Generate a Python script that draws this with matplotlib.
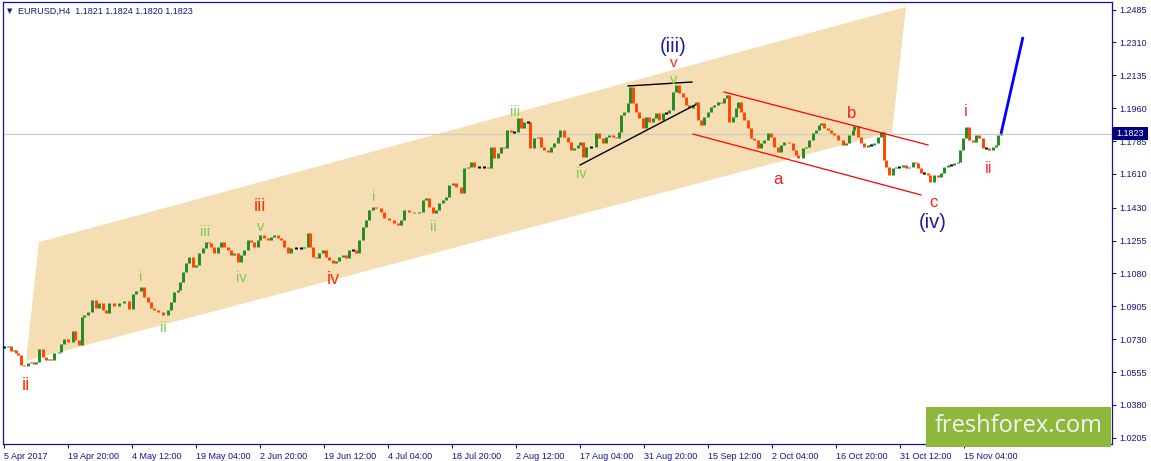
import matplotlib
matplotlib.use("Agg")
import matplotlib.pyplot as plt
from matplotlib.patches import Polygon, Rectangle
import numpy as np

W, H = 1151, 461
NAVY = '#14148c'
BULL = '#228b22'
BEAR = '#ff4500'

# H4 closes, bar number counted from 5 Apr 2017 00:00
bars_a = [0, 4, 7, 10, 12, 14, 17, 20, 24, 27, 30, 32, 35, 39, 42, 45, 47, 50, 55, 57,
          60, 64, 69, 71, 75, 78, 80, 84, 88, 92, 95, 99, 102, 105, 110, 115, 120, 125, 129, 132,
          137, 140, 144, 147, 150, 154, 159, 164, 167, 170, 174, 176, 179, 182, 185, 189, 192, 195,
          199, 202, 205]
close_a = [1.0688, 1.0694, 1.0667, 1.0672, 1.0656, 1.0646, 1.0592, 1.0587, 1.0603, 1.0608,
           1.0598, 1.0608, 1.0678, 1.0635, 1.0619, 1.0624, 1.0619, 1.0656, 1.0662, 1.0704,
           1.0731, 1.0715, 1.0773, 1.0726, 1.0699, 1.0848, 1.0859, 1.0875, 1.0939, 1.0896,
           1.0923, 1.0885, 1.0869, 1.0923, 1.0907, 1.0923, 1.0933, 1.0891, 1.0970, 1.0986,
           1.1008, 1.0955, 1.0928, 1.0896, 1.0885, 1.0875, 1.0859, 1.0885, 1.0928, 1.0981,
           1.0992, 1.1034, 1.1088, 1.1136, 1.1168, 1.1114, 1.1125, 1.1189, 1.1215, 1.1247, 1.1242]

bars_b = [207, 210, 214, 217, 220, 224, 227, 230, 234, 237, 240, 244, 247, 250, 254, 256, 260, 264,
          267, 270, 274, 277, 280, 284, 287, 292, 297, 300, 304, 306, 309, 312, 315, 319, 322, 325,
          329, 332, 335, 339, 342, 345, 349, 352, 355, 359, 362, 365, 369, 372, 377, 380, 385, 390,
          394, 397, 400, 405, 410, 415]
close_b = [1.1221, 1.1189, 1.1221, 1.1247, 1.1221, 1.1205, 1.1178, 1.1189, 1.1141, 1.1178,
           1.1205, 1.1258, 1.1247, 1.1221, 1.1258, 1.1285, 1.1269, 1.1258, 1.1274, 1.1285,
           1.1269, 1.1258, 1.1221, 1.1189, 1.1215, 1.1215, 1.1215, 1.1221, 1.1295, 1.1221,
           1.1168, 1.1162, 1.1189, 1.1205, 1.1168, 1.1152, 1.1136, 1.1146, 1.1168, 1.1178,
           1.1162, 1.1205, 1.1205, 1.1189, 1.1258, 1.1327, 1.1365, 1.1418, 1.1434, 1.1428,
           1.1407, 1.1375, 1.1365, 1.1349, 1.1338, 1.1365, 1.1418, 1.1407, 1.1402, 1.1407]

bars_c = [419, 422, 425, 429, 432, 435, 439, 442, 445, 449, 452, 457, 460, 464, 467, 470, 475, 480,
          484, 487, 490, 494, 497, 500, 503, 507, 510, 514, 517, 520, 524, 526, 530, 534, 537, 540,
          544, 547, 550, 554, 556, 560, 564, 567, 570, 574, 576, 579, 582, 587, 592, 595, 599, 602,
          605, 609, 612, 615, 617, 620, 624, 626]
close_c = [1.1471, 1.1482, 1.1434, 1.1402, 1.1418, 1.1455, 1.1471, 1.1487, 1.1551, 1.1562,
           1.1540, 1.1508, 1.1641, 1.1647, 1.1673, 1.1647, 1.1647, 1.1647, 1.1641, 1.1753,
           1.1695, 1.1721, 1.1753, 1.1748, 1.1844, 1.1833, 1.1833, 1.1908, 1.1854, 1.1886,
           1.1886, 1.1748, 1.1801, 1.1806, 1.1753, 1.1737, 1.1727, 1.1753, 1.1774, 1.1806,
           1.1844, 1.1806, 1.1780, 1.1737, 1.1748, 1.1764, 1.1780, 1.1700, 1.1753, 1.1753,
           1.1828, 1.1801, 1.1774, 1.1806, 1.1817, 1.1806, 1.1801, 1.1833, 1.1924, 1.1940,
           1.1988, 1.2073]

bars_d = [629, 632, 635, 639, 642, 645, 649, 652, 655, 659, 662, 665, 669, 672, 675, 679, 682, 685,
          689, 692, 694, 697, 700, 704, 707, 710, 714, 717, 720, 723, 725, 729, 732, 734, 737, 740,
          744, 747, 750, 754, 757, 760, 764, 767, 770, 774, 777, 780, 785, 789, 792, 794, 799, 802,
          805, 809, 812, 815, 817, 820, 824, 827]
close_d = [1.1988, 1.1940, 1.1908, 1.1854, 1.1913, 1.1886, 1.1908, 1.1934, 1.1897, 1.1934,
           1.1934, 1.1950, 1.2046, 1.2083, 1.2041, 1.2020, 1.1977, 1.1961, 1.1977, 1.1993,
           1.1897, 1.1870, 1.1913, 1.1940, 1.1966, 1.1977, 1.1993, 1.1988, 1.2014, 1.2030,
           1.1886, 1.1913, 1.1961, 1.1993, 1.1940, 1.1897, 1.1854, 1.1801, 1.1790, 1.1748,
           1.1774, 1.1790, 1.1828, 1.1806, 1.1753, 1.1727, 1.1764, 1.1780, 1.1774, 1.1737,
           1.1711, 1.1695, 1.1748, 1.1753, 1.1790, 1.1828, 1.1844, 1.1870, 1.1881, 1.1854,
           1.1844, 1.1828]

bars_e = [830, 834, 839, 842, 845, 849, 850, 854, 857, 860, 864, 867, 870, 874, 877, 880, 882, 885,
          889, 892, 895, 899, 902, 905, 909, 912, 914, 917, 920, 924, 926, 930, 934, 937, 940, 944,
          947, 950, 954, 956, 959, 962, 965, 969, 972, 975, 979, 982, 985, 989, 992, 994, 997]
close_e = [1.1817, 1.1790, 1.1764, 1.1774, 1.1817, 1.1844, 1.1865, 1.1806, 1.1774, 1.1753,
           1.1764, 1.1764, 1.1774, 1.1806, 1.1833, 1.1684, 1.1647, 1.1604, 1.1641, 1.1647,
           1.1647, 1.1657, 1.1641, 1.1647, 1.1673, 1.1668, 1.1641, 1.1615, 1.1615, 1.1604,
           1.1567, 1.1604, 1.1593, 1.1615, 1.1647, 1.1657, 1.1657, 1.1668, 1.1673, 1.1737,
           1.1801, 1.1860, 1.1790, 1.1780, 1.1817, 1.1801, 1.1748, 1.1748, 1.1737, 1.1753,
           1.1764, 1.1817, 1.1823]

# drawn objects
channel_bar = [22, 35, 902, 888]
channel_price = [1.0614, 1.1247, 1.2499, 1.1833]
tri_top_bar, tri_top_price = [624, 688], [1.2078, 1.2099]
tri_bot_bar, tri_bot_price = [576, 691], [1.1657, 1.1977]
abc_top_bar, abc_top_price = [720, 924], [1.2046, 1.1764]
abc_bot_bar, abc_bot_price = [689, 917], [1.1822, 1.1498]
proj_bar, proj_price = [997, 1019], [1.1823, 1.2339]

# wave labels: (text, bar, price)
minor_labels = [('i', 137, 1.1061), ('ii', 159, 1.0789), ('iii', 201, 1.1301), ('iv', 237, 1.1056),
                ('v', 257, 1.1327), ('i', 370, 1.1487), ('ii', 429, 1.1327), ('iii', 511, 1.1940),
                ('iv', 577, 1.1609), ('v', 670, 1.2108)]
minute_labels = [('ii', 22, 1.0486), ('iii', 256, 1.1439), ('iv', 329, 1.1050)]
top_label = [('v', 670, 1.2200)]
abc_labels = [('a', 774, 1.1578), ('b', 848, 1.1934), ('c', 929, 1.1460)]
new_labels = [('i', 962, 1.1940), ('ii', 985, 1.1641)]
major_labels = [('(iii)', 669, 1.2286), ('(iv)', 929, 1.1349)]

price_ticks = [1.2485, 1.2310, 1.2135, 1.1960, 1.1785, 1.1610, 1.1430, 1.1255,
               1.1080, 1.0905, 1.0730, 1.0555, 1.0380, 1.0205]
time_labels = ['5 Apr 2017', '19 Apr 20:00', '4 May 12:00', '19 May 04:00', '2 Jun 20:00',
               '19 Jun 12:00', '4 Jul 04:00', '18 Jul 20:00', '2 Aug 12:00', '17 Aug 04:00',
               '31 Aug 20:00', '15 Sep 12:00', '2 Oct 04:00', '16 Oct 20:00', '31 Oct 12:00',
               '15 Nov 04:00']
bars_per_label = 64
quote = [1.1821, 1.1824, 1.1820, 1.1823]

bars = np.array(bars_a + bars_b + bars_c + bars_d + bars_e)
close = np.array(close_a + close_b + close_c + close_d + close_e)
opens = np.concatenate([[close[0]], close[:-1]])


def fx(x):
    return x / W


def fy(y):
    return 1 - y / H


fig = plt.figure(figsize=(W / 100, H / 100), dpi=100)
fig.patch.set_facecolor('white')
ax = fig.add_axes([fx(3), fy(444), fx(1112) - fx(3), fy(2) - fy(444)])
ax.set_xlim(-1, 1108)
ax.set_ylim(1.0172, 1.2525)

ax.add_patch(Polygon(list(zip(channel_bar, channel_price)), closed=True,
                     facecolor='#f5deb3', edgecolor='none', zorder=0))
ax.axhline(close[-1], color='#c8c8c8', lw=0.8, zorder=1)

up = close > opens
dn = close < opens
flat = close == opens
ax.vlines(bars[up], opens[up], close[up], color=BULL, lw=2.1, zorder=3)
ax.vlines(bars[dn], close[dn], opens[dn], color=BEAR, lw=2.1, zorder=3)
ax.vlines(bars[flat], close[flat] - 0.0004, close[flat] + 0.0004, color='black', lw=2.1, zorder=3)

ax.plot(tri_top_bar, tri_top_price, color='black', lw=1, zorder=4)
ax.plot(tri_bot_bar, tri_bot_price, color='black', lw=1, zorder=4)
ax.plot(abc_top_bar, abc_top_price, color='#ff0000', lw=0.9, zorder=4)
ax.plot(abc_bot_bar, abc_bot_price, color='#ff0000', lw=0.9, zorder=4)
ax.plot(proj_bar, proj_price, color='#0000ff', lw=2, zorder=4, solid_capstyle='butt')

label_groups = [
    (minor_labels, '#7ccd4c', 10.5),
    (minute_labels, '#ff3300', 13),
    (top_label, '#ff2020', 11),
    (abc_labels, '#ff1a1a', 12),
    (new_labels, '#ff3344', 12),
    (major_labels, '#1c1c9c', 14.5),
]
for group, colour, size in label_groups:
    for txt, b, p in group:
        ax.text(b, p, txt, color=colour, fontsize=size, ha='center', va='center',
                family='Liberation Sans', zorder=5)

# axes frame and scales
for s in ax.spines.values():
    s.set_color(NAVY)
    s.set_linewidth(0.9)
ax.yaxis.tick_right()
ax.set_yticks(price_ticks)
ax.set_yticklabels([f'{p:.4f}' for p in price_ticks])
ax.set_xticks([i * bars_per_label for i in range(len(time_labels))])
ax.set_xticklabels(time_labels, ha='left')
ax.tick_params(axis='both', colors=NAVY, labelcolor=NAVY, labelsize=6.5,
               length=3, width=0.8, direction='out')
ax.tick_params(axis='y', pad=2.5)
ax.tick_params(axis='x', pad=2.5)
for t in ax.get_xticklabels() + ax.get_yticklabels():
    t.set_family('Liberation Sans')

# title line
fig.text(fx(7), fy(11), '▼', fontsize=5, color=NAVY, va='center', family='DejaVu Sans')
fig.text(fx(18), fy(11), 'EURUSD,H4  ' + ' '.join(f'{q:.4f}' for q in quote),
         fontsize=6.5, color=NAVY, va='center', family='Liberation Sans')

# current price marker on the scale
fig.patches.append(Rectangle((fx(1112), fy(140)), fx(36), 13 / H, transform=fig.transFigure,
                             facecolor='#000080', edgecolor='none', zorder=10))
fig.text(fx(1116), fy(133.5), f'{close[-1]:.4f}', fontsize=6.5, color='white', va='center',
         family='Liberation Sans', zorder=11)

# logo
fig.patches.append(Rectangle((fx(926), fy(447)), fx(185), 40 / H, transform=fig.transFigure,
                             facecolor='#8db83c', edgecolor='none', zorder=10))
fig.text(fx(1019), fy(426), 'freshforex.com', fontsize=17, color='#f4f4f4', ha='center',
         va='center', family='Open Sans', zorder=11)

fig.savefig('out.png', dpi=100)
